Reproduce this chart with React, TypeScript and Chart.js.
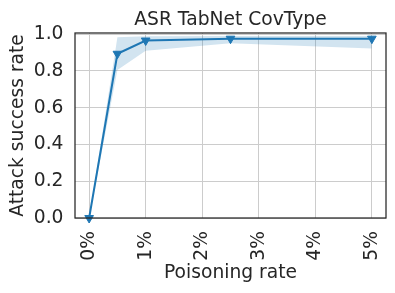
import React, { useEffect, useRef } from 'react';
import { Chart, registerables } from 'chart.js';

Chart.register(...registerables);

const poisoningRates = [0, 0.5, 1, 2.5, 5];
const asrMean = [0, 0.893, 0.965, 0.975, 0.975];
const asrLower = [0, 0.805, 0.91, 0.95, 0.922];
const asrUpper = [0, 0.983, 0.988, 0.99, 0.99];
const xTicks = [0, 1, 2, 3, 4, 5];
const yTicks = [0, 0.2, 0.4, 0.6, 0.8, 1.0];
const chartTitle = 'ASR TabNet CovType';

const FONT = 'DejaVu Sans';
const TEXT = '#262626';
const BLUE = '#1f77b4';

const framePlugin = {
  id: 'frame',
  afterDatasetsDraw(chart: any) {
    const { ctx, chartArea } = chart;
    ctx.save();
    ctx.strokeStyle = '#262626';
    ctx.lineWidth = 1.25;
    ctx.strokeRect(chartArea.left, chartArea.top, chartArea.right - chartArea.left, chartArea.bottom - chartArea.top);
    ctx.restore();
  },
};

const axesTitlePlugin = {
  id: 'axesTitle',
  afterDraw(chart: any) {
    const { ctx, chartArea } = chart;
    ctx.save();
    ctx.fillStyle = TEXT;
    ctx.font = `18.7px "${FONT}"`;
    ctx.textAlign = 'center';
    ctx.textBaseline = 'alphabetic';
    ctx.fillText(chartTitle, (chartArea.left + chartArea.right) / 2, 25);
    ctx.restore();
  },
};

export default function App() {
  const ref = useRef<HTMLCanvasElement | null>(null);
  useEffect(() => {
    const toPts = (ys: number[]) => poisoningRates.map((x, i) => ({ x, y: ys[i] }));
    const chart = new Chart(ref.current!, {
      type: 'line',
      data: {
        datasets: [
          {
            data: toPts(asrLower),
            borderWidth: 0,
            pointRadius: 0,
            fill: false,
            backgroundColor: 'rgba(31,119,180,0.2)',
            borderColor: 'rgba(0,0,0,0)',
          },
          {
            data: toPts(asrUpper),
            borderWidth: 0,
            pointRadius: 0,
            fill: '-1',
            backgroundColor: 'rgba(31,119,180,0.2)',
            borderColor: 'rgba(0,0,0,0)',
          },
          {
            data: toPts(asrMean),
            borderColor: BLUE,
            backgroundColor: BLUE,
            borderWidth: 2,
            pointStyle: 'triangle',
            pointRotation: 180,
            pointRadius: 5,
            pointBorderWidth: 1,
            pointBackgroundColor: BLUE,
            pointBorderColor: BLUE,
            fill: false,
            clip: false as any,
          },
        ],
      },
      options: {
        responsive: false,
        animation: false,
        devicePixelRatio: 1,
        layout: { padding: { left: 0, right: 9, top: 33, bottom: 0 } },
        plugins: {
          legend: { display: false },
          tooltip: { enabled: false },
          title: { display: false },
        },
        scales: {
          x: {
            type: 'linear',
            min: -0.25,
            max: 5.25,
            afterBuildTicks: (s: any) => {
              s.ticks = xTicks.map((v) => ({ value: v }));
            },
            afterFit: (s: any) => {
              s.height = 75;
              s.paddingLeft = 0;
              s.paddingRight = 0;
            },
            grid: { color: '#cccccc', lineWidth: 1, drawTicks: false },
            border: { display: false },
            ticks: {
              color: TEXT,
              font: { family: FONT, size: 18.7 },
              maxRotation: 90,
              minRotation: 90,
              padding: 13,
              callback: (v: any) => `${v}%`,
            },
            title: {
              display: true,
              text: 'Poisoning rate',
              color: TEXT,
              font: { family: FONT, size: 18.7 },
              padding: { top: 0, bottom: 8.9 },
            },
          },
          y: {
            type: 'linear',
            min: 0,
            max: 1.006,
            afterBuildTicks: (s: any) => {
              s.ticks = yTicks.map((v) => ({ value: v }));
            },
            afterFit: (s: any) => {
              s.width = 75;
              s.paddingTop = 0;
              s.paddingBottom = 0;
            },
            grid: { color: '#cccccc', lineWidth: 1, drawTicks: false },
            border: { display: false },
            ticks: {
              color: TEXT,
              font: { family: FONT, size: 18.7 },
              padding: 11.5,
              callback: (v: any) => Number(v).toFixed(1),
            },
            title: {
              display: true,
              text: 'Attack success rate',
              color: TEXT,
              font: { family: FONT, size: 18.7 },
              padding: { top: 7.3, bottom: 0 },
            },
          },
        },
      },
      plugins: [framePlugin, axesTitlePlugin],
    });
    return () => chart.destroy();
  }, []);
  return (
    <div style={{ position: 'absolute', left: 0, top: 0, width: 395, height: 293, background: '#ffffff' }}>
      <canvas ref={ref} width={395} height={293} style={{ display: 'block' }} />
    </div>
  );
}
